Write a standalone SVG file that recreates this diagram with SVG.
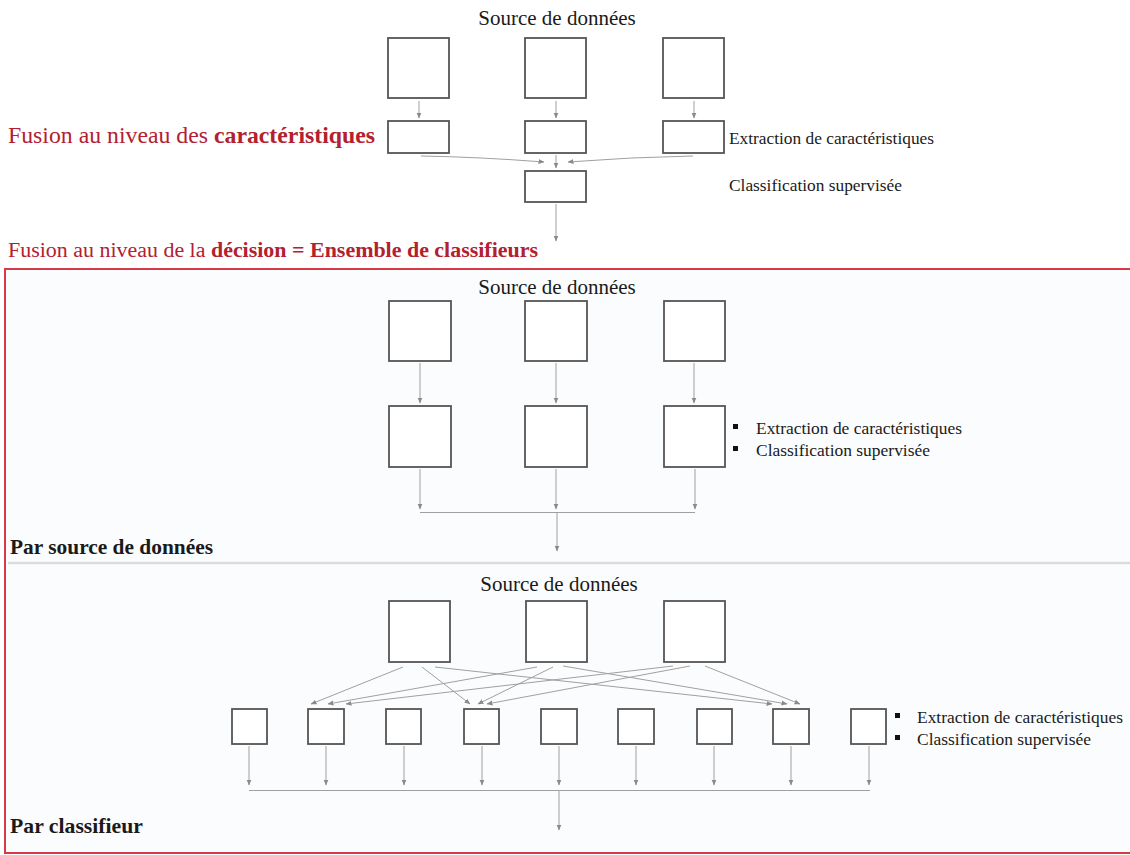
<svg xmlns="http://www.w3.org/2000/svg" width="1130" height="855" viewBox="0 0 1130 855">
<defs>
<marker id="ah" markerUnits="userSpaceOnUse" markerWidth="6" markerHeight="6" refX="5.5" refY="3" orient="auto">
<path d="M0,0.5 L6,3 L0,5.5 z" fill="#8a8a8a"/>
</marker>
<style>
.box{fill:#ffffff;stroke:#555555;stroke-width:1.8}
.ln{fill:none;stroke:#a0a0a0;stroke-width:1}
.ar{fill:none;stroke:#a0a0a0;stroke-width:1;marker-end:url(#ah)}
.t{font-family:"Liberation Serif","Times New Roman",serif;fill:#1a1a1a}
.red{font-family:"Liberation Serif","Times New Roman",serif;fill:#b3202f}
.b{font-weight:bold}
.bul{fill:#111111}
</style>
</defs>
<rect x="0" y="0" width="1130" height="855" fill="#ffffff"/>

<!-- frame -->
<g id="frame">
<rect x="5" y="269" width="1135" height="584" fill="#fbfcfd" stroke="#d63a46" stroke-width="2"/>
<line x1="8" y1="563" x2="1130" y2="563" stroke="#dcdcdc" stroke-width="2.5"/>
</g>

<!-- titles -->
<g id="titles">
<text class="t" x="557" y="25" font-size="21" text-anchor="middle">Source de données</text>
<text class="red" x="8" y="143" font-size="23" textLength="367" lengthAdjust="spacingAndGlyphs">Fusion au niveau des <tspan class="b">caractéristiques</tspan></text>
<text class="t" x="729" y="144" font-size="17" textLength="205" lengthAdjust="spacingAndGlyphs">Extraction de caractéristiques</text>
<text class="t" x="729" y="191" font-size="17" textLength="173" lengthAdjust="spacingAndGlyphs">Classification supervisée</text>
<text class="red" x="8" y="257" font-size="20" textLength="530" lengthAdjust="spacingAndGlyphs">Fusion au niveau de la <tspan class="b">décision = Ensemble de classifieurs</tspan></text>
<text class="t" x="557" y="294" font-size="21" text-anchor="middle">Source de données</text>
<rect class="bul" x="733" y="424" width="5" height="5"/>
<text class="t" x="756" y="434" font-size="17" textLength="206" lengthAdjust="spacingAndGlyphs">Extraction de caractéristiques</text>
<rect class="bul" x="733" y="446" width="5" height="5"/>
<text class="t" x="756" y="456" font-size="17" textLength="174" lengthAdjust="spacingAndGlyphs">Classification supervisée</text>
<text class="t b" x="10" y="554" font-size="21" textLength="203" lengthAdjust="spacingAndGlyphs">Par source de données</text>
<text class="t" x="559" y="591" font-size="21" text-anchor="middle">Source de données</text>
<rect class="bul" x="895" y="713" width="5" height="5"/>
<text class="t" x="917" y="723" font-size="17" textLength="206" lengthAdjust="spacingAndGlyphs">Extraction de caractéristiques</text>
<rect class="bul" x="895" y="735" width="5" height="5"/>
<text class="t" x="917" y="745" font-size="17" textLength="174" lengthAdjust="spacingAndGlyphs">Classification supervisée</text>
<text class="t b" x="10" y="833" font-size="21" textLength="133" lengthAdjust="spacingAndGlyphs">Par classifieur</text>
</g>

<!-- top section nodes -->
<g id="top-src1"><rect class="box" x="388" y="38" width="61" height="60"/></g>
<g id="top-src2"><rect class="box" x="525" y="38" width="61" height="60"/></g>
<g id="top-src3"><rect class="box" x="663" y="38" width="61" height="60"/></g>
<g id="top-ext1"><rect class="box" x="388" y="121" width="61" height="32"/></g>
<g id="top-ext2"><rect class="box" x="525" y="121" width="61" height="32"/></g>
<g id="top-ext3"><rect class="box" x="663" y="121" width="61" height="32"/></g>
<g id="top-cls"><rect class="box" x="525" y="171" width="61" height="31"/></g>

<!-- middle section nodes -->
<g id="mid-src1"><rect class="box" x="389" y="301" width="62" height="60"/></g>
<g id="mid-src2"><rect class="box" x="525" y="301" width="62" height="60"/></g>
<g id="mid-src3"><rect class="box" x="664" y="301" width="61" height="60"/></g>
<g id="mid-clf1"><rect class="box" x="389" y="406" width="62" height="61"/></g>
<g id="mid-clf2"><rect class="box" x="525" y="406" width="62" height="61"/></g>
<g id="mid-clf3"><rect class="box" x="664" y="406" width="61" height="61"/></g>

<!-- bottom section nodes -->
<g id="bot-src1"><rect class="box" x="389" y="601" width="61" height="61"/></g>
<g id="bot-src2"><rect class="box" x="526" y="601" width="61" height="61"/></g>
<g id="bot-src3"><rect class="box" x="664" y="601" width="61" height="61"/></g>
<g id="bot-clf1"><rect class="box" x="232" y="709" width="35" height="35"/></g>
<g id="bot-clf2"><rect class="box" x="308" y="709" width="36" height="35"/></g>
<g id="bot-clf3"><rect class="box" x="386" y="709" width="35" height="35"/></g>
<g id="bot-clf4"><rect class="box" x="464" y="709" width="35" height="35"/></g>
<g id="bot-clf5"><rect class="box" x="541" y="709" width="36" height="35"/></g>
<g id="bot-clf6"><rect class="box" x="618" y="709" width="36" height="35"/></g>
<g id="bot-clf7"><rect class="box" x="697" y="709" width="35" height="35"/></g>
<g id="bot-clf8"><rect class="box" x="773" y="709" width="36" height="35"/></g>
<g id="bot-clf9"><rect class="box" x="851" y="709" width="35" height="35"/></g>

<!-- connectors -->
<g id="connectors">
<!-- top -->
<line class="ar" x1="419" y1="101" x2="419" y2="118"/>
<line class="ar" x1="556" y1="101" x2="556" y2="118"/>
<line class="ar" x1="694" y1="101" x2="694" y2="118"/>
<path class="ar" d="M421,156 Q480,157 544,162"/>
<line class="ar" x1="556" y1="155" x2="556" y2="168"/>
<path class="ar" d="M693,156 Q632,157 568,162"/>
<line class="ar" x1="556" y1="204" x2="556" y2="241"/>
<!-- middle -->
<line class="ar" x1="420" y1="363" x2="420" y2="403"/>
<line class="ar" x1="556" y1="363" x2="556" y2="403"/>
<line class="ar" x1="694" y1="363" x2="694" y2="403"/>
<line class="ar" x1="420" y1="469" x2="420" y2="509"/>
<line class="ar" x1="556" y1="469" x2="556" y2="509"/>
<line class="ar" x1="695" y1="469" x2="695" y2="509"/>
<line class="ln" x1="420" y1="512.5" x2="695" y2="512.5"/>
<line class="ar" x1="557" y1="513" x2="557" y2="551"/>
<!-- bottom crossing -->
<line class="ar" x1="403" y1="667" x2="311" y2="704"/>
<line class="ar" x1="422" y1="667" x2="470" y2="704"/>
<line class="ar" x1="435" y1="667" x2="772" y2="704"/>
<line class="ar" x1="537" y1="667" x2="328" y2="704"/>
<line class="ar" x1="553" y1="667" x2="478" y2="704"/>
<line class="ar" x1="563" y1="666" x2="787" y2="704"/>
<line class="ar" x1="673" y1="666" x2="346" y2="704"/>
<line class="ar" x1="690" y1="666" x2="487" y2="704"/>
<line class="ar" x1="705" y1="666" x2="800" y2="704"/>
<!-- bottom collect -->
<line class="ar" x1="249" y1="746" x2="249" y2="785"/>
<line class="ar" x1="326" y1="746" x2="326" y2="785"/>
<line class="ar" x1="404" y1="746" x2="404" y2="785"/>
<line class="ar" x1="482" y1="746" x2="482" y2="785"/>
<line class="ar" x1="559" y1="746" x2="559" y2="785"/>
<line class="ar" x1="636" y1="746" x2="636" y2="785"/>
<line class="ar" x1="714" y1="746" x2="714" y2="785"/>
<line class="ar" x1="791" y1="746" x2="791" y2="785"/>
<line class="ar" x1="869" y1="746" x2="869" y2="785"/>
<line class="ln" x1="249" y1="790.5" x2="870" y2="790.5"/>
<line class="ar" x1="559" y1="791" x2="559" y2="830"/>
</g>
</svg>
